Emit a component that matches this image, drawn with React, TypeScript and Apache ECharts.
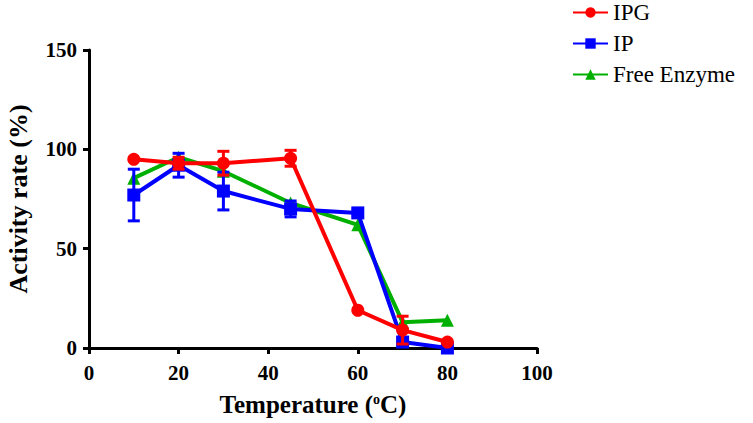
import React, { useEffect, useRef } from "react";
import * as echarts from "echarts";

const temps = [10, 20, 30, 45, 60, 70, 80];
const ipg = [95, 93, 93, 95.5, 19, 9, 3];
const ipgErr = [0, 3, 6, 4, 0, 7, 0];
const ip = [77, 92, 79, 70, 68, 3, 0];
const ipErr = [13, 6, 9.5, 4, 1.5, 0, 0];
const free = [85.5, 96, 89, 73, 62, 13, 14];
const freeErr = [0, 0, 0, 0, 0, 0, 0];

const RED = "#ff0000";
const BLUE = "#0000ff";
const GREEN = "#00b000";
const FONT = "'Liberation Serif', 'Times New Roman', serif";

function errData(vals: number[], errs: number[]) {
  return temps
    .map((t, i) => [t, vals[i] - errs[i], vals[i] + errs[i]])
    .filter((_, i) => errs[i] > 0);
}

function errSeries(name: string, vals: number[], errs: number[], color: string, z: number) {
  return {
    type: "custom",
    name: name + "_err",
    z,
    data: errData(vals, errs),
    renderItem: (params: any, api: any) => {
      const x = api.value(0);
      const lo = api.coord([x, api.value(1)]);
      const hi = api.coord([x, api.value(2)]);
      const hw = 6;
      const style = { stroke: color, lineWidth: 3 };
      return {
        type: "group",
        children: [
          { type: "line", shape: { x1: lo[0], y1: lo[1], x2: hi[0], y2: hi[1] }, style },
          { type: "line", shape: { x1: lo[0] - hw, y1: lo[1], x2: lo[0] + hw, y2: lo[1] }, style },
          { type: "line", shape: { x1: hi[0] - hw, y1: hi[1], x2: hi[0] + hw, y2: hi[1] }, style },
        ],
      };
    },
    silent: true,
  };
}

function lineSeries(name: string, vals: number[], color: string, symbol: string, size: number, z: number) {
  return {
    type: "line",
    name,
    z,
    data: temps.map((t, i) => [t, vals[i]]),
    symbol,
    symbolSize: size,
    showAllSymbol: true,
    lineStyle: { color, width: 4 },
    itemStyle: { color },
  };
}

export default function App() {
  const ref = useRef<HTMLDivElement>(null);
  useEffect(() => {
    const chart = echarts.init(ref.current!, null, { renderer: "svg" });
    chart.setOption({
      animation: false,
      backgroundColor: "#fff",
      textStyle: { fontFamily: FONT },
      grid: { left: 89, right: 216, top: 50, bottom: 75, containLabel: false, outerBoundsMode: "none" },
      legend: {
        data: ["IPG", "IP", "Free Enzyme"],
        orient: "vertical",
        left: 567,
        top: -4,
        itemWidth: 35,
        itemHeight: 13,
        itemGap: 8,
        textStyle: { fontFamily: FONT, fontSize: 23, color: "#000", overflow: "none" },
      },
      xAxis: {
        type: "value",
        min: 0,
        max: 100,
        interval: 20,
        name: "Temperature ({sup|o}C)",
        nameLocation: "middle",
        nameGap: 44,
        nameTextStyle: {
          fontFamily: FONT,
          fontSize: 25,
          fontWeight: "bold",
          color: "#000",
          rich: { sup: { fontFamily: FONT, fontSize: 14, fontWeight: "bold", color: "#000", verticalAlign: "top", padding: [0, 0, 10, 0] } },
        },
        axisLine: { lineStyle: { color: "#000", width: 3 } },
        axisTick: { lineStyle: { color: "#000", width: 3 }, length: 6 },
        axisLabel: { fontFamily: FONT, fontSize: 21, fontWeight: "bold", color: "#000", margin: 14 },
        splitLine: { show: false },
      },
      yAxis: {
        type: "value",
        min: 0,
        max: 150,
        interval: 50,
        name: "Activity rate (%)",
        nameLocation: "middle",
        nameGap: 58,
        nameTextStyle: { fontFamily: FONT, fontSize: 26, fontWeight: "bold", color: "#000" },
        axisLine: { show: true, lineStyle: { color: "#000", width: 3 } },
        axisTick: { show: true, lineStyle: { color: "#000", width: 3 }, length: 6 },
        axisLabel: { fontFamily: FONT, fontSize: 21, fontWeight: "bold", color: "#000", margin: 12 },
        splitLine: { show: false },
      },
      series: [
        lineSeries("Free Enzyme", free, GREEN, "triangle", 13, 2),
        errSeries("Free Enzyme", free, freeErr, GREEN, 2),
        lineSeries("IP", ip, BLUE, "rect", 13, 3),
        errSeries("IP", ip, ipErr, BLUE, 3),
        lineSeries("IPG", ipg, RED, "circle", 13, 4),
        errSeries("IPG", ipg, ipgErr, RED, 4),
      ],
    });
    return () => chart.dispose();
  }, []);
  return <div ref={ref} style={{ width: 753, height: 423, position: "absolute", left: 0, top: 0 }} />;
}
